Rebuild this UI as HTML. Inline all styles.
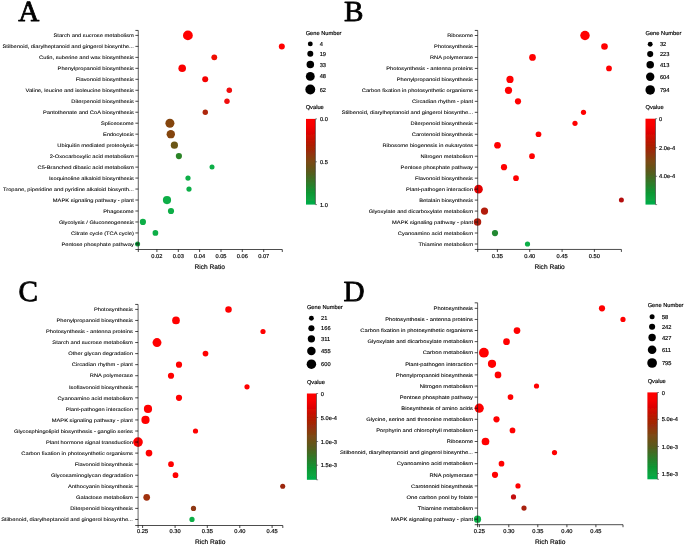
<!DOCTYPE html>
<html lang="en"><head><meta charset="utf-8"><title>KEGG enrichment bubble plots</title>
<style>html,body{margin:0;padding:0;background:#fff;overflow:hidden}svg{display:block}text{font-family:"Liberation Sans", Arial, sans-serif;fill:#000;stroke:#000;stroke-width:.16px;text-rendering:geometricPrecision}.s{font-size:5.710px}.t{font-size:6.600px}.L{font-family:"Liberation Serif", "Times New Roman", serif;font-weight:normal;font-size:29.2px}.y{stroke-width:.08px}.L{stroke:#000;stroke-width:.8px;stroke-linejoin:round}.ln{stroke:#000;stroke-width:0.7;fill:none}</style></head><body>
<svg width="685" height="546" viewBox="0 0 685 546">
<defs><linearGradient id="g" x1="0" y1="0" x2="0" y2="1"><stop offset="0" stop-color="#ff0000"/><stop offset="0.08" stop-color="#f80000"/><stop offset="0.17" stop-color="#dc0400"/><stop offset="0.3" stop-color="#b01c04"/><stop offset="0.4" stop-color="#943008"/><stop offset="0.5" stop-color="#7a4a14"/><stop offset="0.62" stop-color="#585a1c"/><stop offset="0.75" stop-color="#2e7a2a"/><stop offset="0.87" stop-color="#0c9834"/><stop offset="1" stop-color="#04ae4a"/></linearGradient></defs>
<rect width="685" height="546" fill="#fff"/>
<filter id="f" x="0" y="0" width="685" height="546" filterUnits="userSpaceOnUse"><feGaussianBlur stdDeviation="0.3"/></filter><g filter="url(#f)">
<g>
<text class="L" x="18.3" y="20.5">A</text>
<circle cx="187.9" cy="35.40" r="4.90" fill="#ff0000"/>
<circle cx="281.8" cy="46.38" r="3.00" fill="#ff0000"/>
<circle cx="214.3" cy="57.35" r="2.90" fill="#f00a05"/>
<circle cx="182.2" cy="68.32" r="3.80" fill="#fa0000"/>
<circle cx="205.2" cy="79.30" r="3.00" fill="#f50505"/>
<circle cx="229.3" cy="90.28" r="2.75" fill="#f00808"/>
<circle cx="227.0" cy="101.25" r="2.70" fill="#f00808"/>
<circle cx="205.3" cy="112.22" r="2.70" fill="#ae2608"/>
<circle cx="169.9" cy="123.20" r="4.50" fill="#84440e"/>
<circle cx="170.8" cy="134.17" r="4.20" fill="#84440e"/>
<circle cx="174.4" cy="145.15" r="3.60" fill="#6a5612"/>
<circle cx="178.9" cy="156.12" r="3.10" fill="#2c8428"/>
<circle cx="212.0" cy="167.10" r="2.50" fill="#0cae46"/>
<circle cx="188.0" cy="178.07" r="2.60" fill="#0cae46"/>
<circle cx="189.0" cy="189.05" r="2.60" fill="#0cae46"/>
<circle cx="167.0" cy="200.03" r="4.10" fill="#0cae46"/>
<circle cx="171.0" cy="211.00" r="3.10" fill="#0cae46"/>
<circle cx="142.9" cy="221.97" r="3.10" fill="#0cae46"/>
<circle cx="155.4" cy="232.95" r="2.85" fill="#0cae46"/>
<circle cx="137.6" cy="243.93" r="2.50" fill="#0a9a3a"/>
<path class="ln" style="stroke-width:0.7;stroke:#222" d="M138.30 30.43V249.50"/>
<path class="ln" style="stroke-width:.7" d="M135.40 249.50H282.30"/>
<path class="ln" style="stroke-width:.72" d="M135.40 30.43H138.30M282.30 249.50V252.00M135.40 35.40H138.30M135.40 46.38H138.30M135.40 57.35H138.30M135.40 68.32H138.30M135.40 79.30H138.30M135.40 90.28H138.30M135.40 101.25H138.30M135.40 112.22H138.30M135.40 123.20H138.30M135.40 134.17H138.30M135.40 145.15H138.30M135.40 156.12H138.30M135.40 167.10H138.30M135.40 178.07H138.30M135.40 189.05H138.30M135.40 200.03H138.30M135.40 211.00H138.30M135.40 221.97H138.30M135.40 232.95H138.30M135.40 243.93H138.30M138.30 249.50V252.00M156.90 249.50V252.00M178.30 249.50V252.00M199.60 249.50V252.00M221.00 249.50V252.00M242.30 249.50V252.00M263.70 249.50V252.00"/>
<text class="s y" text-anchor="end" transform="translate(133.80 37.14) scale(1.18 1)" style="font-size:4.869px">Starch and sucrose metabolism</text>
<text class="s y" text-anchor="end" transform="translate(133.80 48.12) scale(1.18 1)" style="font-size:4.869px">Stilbenoid, diarylheptanoid and gingerol biosynthe...</text>
<text class="s y" text-anchor="end" transform="translate(133.80 59.09) scale(1.18 1)" style="font-size:4.869px">Cutin, suberine and wax biosynthesis</text>
<text class="s y" text-anchor="end" transform="translate(133.80 70.07) scale(1.18 1)" style="font-size:4.869px">Phenylpropanoid biosynthesis</text>
<text class="s y" text-anchor="end" transform="translate(133.80 81.04) scale(1.18 1)" style="font-size:4.869px">Flavonoid biosynthesis</text>
<text class="s y" text-anchor="end" transform="translate(133.80 92.02) scale(1.18 1)" style="font-size:4.869px">Valine, leucine and isoleucine biosynthesis</text>
<text class="s y" text-anchor="end" transform="translate(133.80 102.99) scale(1.18 1)" style="font-size:4.869px">Diterpenoid biosynthesis</text>
<text class="s y" text-anchor="end" transform="translate(133.80 113.97) scale(1.18 1)" style="font-size:4.869px">Pantothenate and CoA biosynthesis</text>
<text class="s y" text-anchor="end" transform="translate(133.80 124.94) scale(1.18 1)" style="font-size:4.869px">Spliceosome</text>
<text class="s y" text-anchor="end" transform="translate(133.80 135.92) scale(1.18 1)" style="font-size:4.869px">Endocytosis</text>
<text class="s y" text-anchor="end" transform="translate(133.80 146.89) scale(1.18 1)" style="font-size:4.869px">Ubiquitin mediated proteolysis</text>
<text class="s y" text-anchor="end" transform="translate(133.80 157.87) scale(1.18 1)" style="font-size:4.869px">2-Oxocarboxylic acid metabolism</text>
<text class="s y" text-anchor="end" transform="translate(133.80 168.84) scale(1.18 1)" style="font-size:4.869px">C5-Branched dibasic acid metabolism</text>
<text class="s y" text-anchor="end" transform="translate(133.80 179.82) scale(1.18 1)" style="font-size:4.869px">Isoquinoline alkaloid biosynthesis</text>
<text class="s y" text-anchor="end" transform="translate(133.80 190.79) scale(1.18 1)" style="font-size:4.869px">Tropane, piperidine and pyridine alkaloid biosynth...</text>
<text class="s y" text-anchor="end" transform="translate(133.80 201.77) scale(1.18 1)" style="font-size:4.869px">MAPK signaling pathway - plant</text>
<text class="s y" text-anchor="end" transform="translate(133.80 212.74) scale(1.18 1)" style="font-size:4.869px">Phagosome</text>
<text class="s y" text-anchor="end" transform="translate(133.80 223.72) scale(1.18 1)" style="font-size:4.869px">Glycolysis / Gluconeogenesis</text>
<text class="s y" text-anchor="end" transform="translate(133.80 234.69) scale(1.18 1)" style="font-size:4.869px">Citrate cycle (TCA cycle)</text>
<text class="s y" text-anchor="end" transform="translate(133.80 245.67) scale(1.18 1)" style="font-size:4.869px">Pentose phosphate pathway</text>
<text class="s" text-anchor="middle" x="156.90" y="257.74">0.02</text>
<text class="s" text-anchor="middle" x="178.30" y="257.74">0.03</text>
<text class="s" text-anchor="middle" x="199.60" y="257.74">0.04</text>
<text class="s" text-anchor="middle" x="221.00" y="257.74">0.05</text>
<text class="s" text-anchor="middle" x="242.30" y="257.74">0.06</text>
<text class="s" text-anchor="middle" x="263.70" y="257.74">0.07</text>
<text class="t" text-anchor="middle" x="209.70" y="268.86">Rich Ratio</text>
<text class="s" x="305.70" y="34.84">Gene Number</text>
<circle cx="310.3" cy="43.9" r="2.45" fill="#000"/>
<text class="s" x="319.70" y="45.94">4</text>
<circle cx="310.3" cy="53.7" r="3.00" fill="#000"/>
<text class="s" x="319.70" y="55.74">19</text>
<circle cx="310.3" cy="64.5" r="3.75" fill="#000"/>
<text class="s" x="319.70" y="66.54">33</text>
<circle cx="310.3" cy="76.4" r="4.45" fill="#000"/>
<text class="s" x="319.70" y="78.44">48</text>
<circle cx="310.3" cy="89.5" r="4.95" fill="#000"/>
<text class="s" x="319.70" y="91.54">62</text>
<text class="s" x="305.70" y="108.74">Qvalue</text>
<rect x="306.0" y="118.9" width="9.4" height="85.7" fill="url(#g)"/>
<text class="s" x="319.90" y="120.94">0.0</text>
<text class="s" x="319.90" y="163.84">0.5</text>
<text class="s" x="319.90" y="206.64">1.0</text>
<path class="ln" style="stroke-width:.55;stroke:#222" d="M315.40 118.90V204.60M315.40 118.90H317.00M315.40 161.80H317.00M315.40 204.60H317.00"/>
</g>
<g>
<text class="L" x="343.9" y="20.5">B</text>
<circle cx="585.0" cy="35.50" r="4.75" fill="#ff0000"/>
<circle cx="604.5" cy="46.47" r="3.30" fill="#ff0000"/>
<circle cx="532.5" cy="57.45" r="3.35" fill="#ff0000"/>
<circle cx="609.0" cy="68.42" r="2.85" fill="#ff0000"/>
<circle cx="510.0" cy="79.40" r="3.60" fill="#ff0000"/>
<circle cx="508.5" cy="90.37" r="3.60" fill="#ff0000"/>
<circle cx="518.0" cy="101.34" r="3.10" fill="#ff0000"/>
<circle cx="583.5" cy="112.32" r="2.60" fill="#ff0000"/>
<circle cx="575.0" cy="123.29" r="2.60" fill="#ff0000"/>
<circle cx="538.5" cy="134.27" r="2.85" fill="#ff0000"/>
<circle cx="497.5" cy="145.24" r="3.35" fill="#ff0000"/>
<circle cx="532.0" cy="156.21" r="2.85" fill="#ff0000"/>
<circle cx="504.0" cy="167.19" r="3.10" fill="#ff0000"/>
<circle cx="516.0" cy="178.16" r="2.85" fill="#ff0000"/>
<circle cx="478.5" cy="189.14" r="4.30" fill="#e40202"/>
<circle cx="621.4" cy="200.11" r="2.50" fill="#b41010"/>
<circle cx="484.5" cy="211.08" r="3.60" fill="#b21e08"/>
<circle cx="477.5" cy="222.06" r="3.75" fill="#b01e0c"/>
<circle cx="495.0" cy="233.03" r="3.10" fill="#208830"/>
<circle cx="527.5" cy="244.01" r="2.60" fill="#0cae46"/>
<path class="ln" style="stroke-width:0.7;stroke:#222" d="M477.70 30.43V249.45"/>
<path class="ln" style="stroke-width:.7" d="M474.80 249.45H621.40"/>
<path class="ln" style="stroke-width:.72" d="M474.80 30.43H477.70M621.40 249.45V251.95M474.80 35.50H477.70M474.80 46.47H477.70M474.80 57.45H477.70M474.80 68.42H477.70M474.80 79.40H477.70M474.80 90.37H477.70M474.80 101.34H477.70M474.80 112.32H477.70M474.80 123.29H477.70M474.80 134.27H477.70M474.80 145.24H477.70M474.80 156.21H477.70M474.80 167.19H477.70M474.80 178.16H477.70M474.80 189.14H477.70M474.80 200.11H477.70M474.80 211.08H477.70M474.80 222.06H477.70M474.80 233.03H477.70M474.80 244.01H477.70M477.70 249.45V251.95M497.40 249.45V251.95M529.70 249.45V251.95M562.10 249.45V251.95M594.40 249.45V251.95"/>
<text class="s y" text-anchor="end" transform="translate(473.00 37.24) scale(1.18 1)" style="font-size:4.864px">Ribosome</text>
<text class="s y" text-anchor="end" transform="translate(473.00 48.22) scale(1.18 1)" style="font-size:4.864px">Photosynthesis</text>
<text class="s y" text-anchor="end" transform="translate(473.00 59.19) scale(1.18 1)" style="font-size:4.864px">RNA polymerase</text>
<text class="s y" text-anchor="end" transform="translate(473.00 70.16) scale(1.18 1)" style="font-size:4.864px">Photosynthesis - antenna proteins</text>
<text class="s y" text-anchor="end" transform="translate(473.00 81.14) scale(1.18 1)" style="font-size:4.864px">Phenylpropanoid biosynthesis</text>
<text class="s y" text-anchor="end" transform="translate(473.00 92.11) scale(1.18 1)" style="font-size:4.864px">Carbon fixation in photosynthetic organisms</text>
<text class="s y" text-anchor="end" transform="translate(473.00 103.09) scale(1.18 1)" style="font-size:4.864px">Circadian rhythm - plant</text>
<text class="s y" text-anchor="end" transform="translate(473.00 114.06) scale(1.18 1)" style="font-size:4.864px">Stilbenoid, diarylheptanoid and gingerol biosynthe...</text>
<text class="s y" text-anchor="end" transform="translate(473.00 125.03) scale(1.18 1)" style="font-size:4.864px">Diterpenoid biosynthesis</text>
<text class="s y" text-anchor="end" transform="translate(473.00 136.01) scale(1.18 1)" style="font-size:4.864px">Carotenoid biosynthesis</text>
<text class="s y" text-anchor="end" transform="translate(473.00 146.98) scale(1.18 1)" style="font-size:4.864px">Ribosome biogenesis in eukaryotes</text>
<text class="s y" text-anchor="end" transform="translate(473.00 157.96) scale(1.18 1)" style="font-size:4.864px">Nitrogen metabolism</text>
<text class="s y" text-anchor="end" transform="translate(473.00 168.93) scale(1.18 1)" style="font-size:4.864px">Pentose phosphate pathway</text>
<text class="s y" text-anchor="end" transform="translate(473.00 179.90) scale(1.18 1)" style="font-size:4.864px">Flavonoid biosynthesis</text>
<text class="s y" text-anchor="end" transform="translate(473.00 190.88) scale(1.18 1)" style="font-size:4.864px">Plant-pathogen interaction</text>
<text class="s y" text-anchor="end" transform="translate(473.00 201.85) scale(1.18 1)" style="font-size:4.864px">Betalain biosynthesis</text>
<text class="s y" text-anchor="end" transform="translate(473.00 212.83) scale(1.18 1)" style="font-size:4.864px">Glyoxylate and dicarboxylate metabolism</text>
<text class="s y" text-anchor="end" transform="translate(473.00 223.80) scale(1.18 1)" style="font-size:4.864px">MAPK signaling pathway - plant</text>
<text class="s y" text-anchor="end" transform="translate(473.00 234.77) scale(1.18 1)" style="font-size:4.864px">Cyanoamino acid metabolism</text>
<text class="s y" text-anchor="end" transform="translate(473.00 245.75) scale(1.18 1)" style="font-size:4.864px">Thiamine metabolism</text>
<text class="s" text-anchor="middle" x="497.40" y="257.84">0.35</text>
<text class="s" text-anchor="middle" x="529.70" y="257.84">0.40</text>
<text class="s" text-anchor="middle" x="562.10" y="257.84">0.45</text>
<text class="s" text-anchor="middle" x="594.40" y="257.84">0.50</text>
<text class="t" text-anchor="middle" x="549.60" y="269.06">Rich Ratio</text>
<text class="s" x="645.50" y="34.54">Gene Number</text>
<circle cx="650.2" cy="44.3" r="2.45" fill="#000"/>
<text class="s" x="659.90" y="46.34">32</text>
<circle cx="650.2" cy="54.1" r="3.05" fill="#000"/>
<text class="s" x="659.90" y="56.19">223</text>
<circle cx="650.2" cy="64.7" r="3.75" fill="#000"/>
<text class="s" x="659.90" y="66.69">413</text>
<circle cx="650.2" cy="76.7" r="4.20" fill="#000"/>
<text class="s" x="659.90" y="78.74">604</text>
<circle cx="650.2" cy="89.9" r="4.75" fill="#000"/>
<text class="s" x="659.90" y="91.94">794</text>
<text class="s" x="645.50" y="109.14">Qvalue</text>
<rect x="645.5" y="118.7" width="10.0" height="85.9" fill="url(#g)"/>
<text class="s" x="659.00" y="120.74">0</text>
<text class="s" x="659.00" y="149.74">2.0e-4</text>
<text class="s" x="659.00" y="178.34">4.0e-4</text>
<path class="ln" style="stroke-width:.55;stroke:#222" d="M655.50 118.70V204.60M655.50 118.70H657.10M655.50 147.70H657.10M655.50 176.30H657.10M655.50 204.60H657.10"/>
</g>
<g>
<text class="L" x="18.6" y="301.0">C</text>
<circle cx="228.5" cy="309.40" r="3.25" fill="#ff0000"/>
<circle cx="176.0" cy="320.45" r="3.85" fill="#ff0000"/>
<circle cx="263.0" cy="331.51" r="2.60" fill="#ff0000"/>
<circle cx="157.0" cy="342.56" r="4.45" fill="#ff0000"/>
<circle cx="205.5" cy="353.62" r="2.85" fill="#ff0000"/>
<circle cx="179.0" cy="364.67" r="3.10" fill="#ff0000"/>
<circle cx="171.0" cy="375.73" r="3.10" fill="#ff0000"/>
<circle cx="247.0" cy="386.78" r="2.60" fill="#ff0000"/>
<circle cx="179.0" cy="397.84" r="3.10" fill="#ff0000"/>
<circle cx="148.0" cy="408.89" r="4.10" fill="#ff0000"/>
<circle cx="145.5" cy="419.95" r="4.10" fill="#ff0000"/>
<circle cx="195.5" cy="431.00" r="2.60" fill="#ff0000"/>
<circle cx="138.0" cy="442.06" r="4.85" fill="#ff0000"/>
<circle cx="149.0" cy="453.12" r="3.35" fill="#ff0000"/>
<circle cx="171.0" cy="464.17" r="2.85" fill="#ff0000"/>
<circle cx="175.5" cy="475.22" r="2.85" fill="#ff0000"/>
<circle cx="282.7" cy="486.28" r="2.55" fill="#9c2810"/>
<circle cx="146.7" cy="497.33" r="3.35" fill="#a03010"/>
<circle cx="193.5" cy="508.39" r="2.60" fill="#8e3812"/>
<circle cx="192.0" cy="519.44" r="2.60" fill="#0cae46"/>
<path class="ln" style="stroke-width:0.7;stroke:#222" d="M138.10 304.43V525.50"/>
<path class="ln" style="stroke-width:.7" d="M135.20 525.50H282.80"/>
<path class="ln" style="stroke-width:.72" d="M135.20 304.43H138.10M282.80 525.50V528.00M135.20 309.40H138.10M135.20 320.45H138.10M135.20 331.51H138.10M135.20 342.56H138.10M135.20 353.62H138.10M135.20 364.67H138.10M135.20 375.73H138.10M135.20 386.78H138.10M135.20 397.84H138.10M135.20 408.89H138.10M135.20 419.95H138.10M135.20 431.00H138.10M135.20 442.06H138.10M135.20 453.12H138.10M135.20 464.17H138.10M135.20 475.22H138.10M135.20 486.28H138.10M135.20 497.33H138.10M135.20 508.39H138.10M135.20 519.44H138.10M138.10 525.50V528.00M142.60 525.50V528.00M175.10 525.50V528.00M207.30 525.50V528.00M239.80 525.50V528.00M272.10 525.50V528.00"/>
<text class="s y" text-anchor="end" transform="translate(132.90 311.15) scale(1.18 1)" style="font-size:4.886px">Photosynthesis</text>
<text class="s y" text-anchor="end" transform="translate(132.90 322.20) scale(1.18 1)" style="font-size:4.886px">Phenylpropanoid biosynthesis</text>
<text class="s y" text-anchor="end" transform="translate(132.90 333.26) scale(1.18 1)" style="font-size:4.886px">Photosynthesis - antenna proteins</text>
<text class="s y" text-anchor="end" transform="translate(132.90 344.31) scale(1.18 1)" style="font-size:4.886px">Starch and sucrose metabolism</text>
<text class="s y" text-anchor="end" transform="translate(132.90 355.37) scale(1.18 1)" style="font-size:4.886px">Other glycan degradation</text>
<text class="s y" text-anchor="end" transform="translate(132.90 366.42) scale(1.18 1)" style="font-size:4.886px">Circadian rhythm - plant</text>
<text class="s y" text-anchor="end" transform="translate(132.90 377.48) scale(1.18 1)" style="font-size:4.886px">RNA polymerase</text>
<text class="s y" text-anchor="end" transform="translate(132.90 388.53) scale(1.18 1)" style="font-size:4.886px">Isoflavonoid biosynthesis</text>
<text class="s y" text-anchor="end" transform="translate(132.90 399.59) scale(1.18 1)" style="font-size:4.886px">Cyanoamino acid metabolism</text>
<text class="s y" text-anchor="end" transform="translate(132.90 410.64) scale(1.18 1)" style="font-size:4.886px">Plant-pathogen interaction</text>
<text class="s y" text-anchor="end" transform="translate(132.90 421.70) scale(1.18 1)" style="font-size:4.886px">MAPK signaling pathway - plant</text>
<text class="s y" text-anchor="end" transform="translate(132.90 432.75) scale(1.18 1)" style="font-size:4.886px">Glycosphingolipid biosynthesis - ganglio series</text>
<text class="s y" text-anchor="end" transform="translate(132.90 443.81) scale(1.18 1)" style="font-size:4.886px">Plant hormone signal transduction</text>
<text class="s y" text-anchor="end" transform="translate(132.90 454.86) scale(1.18 1)" style="font-size:4.886px">Carbon fixation in photosynthetic organisms</text>
<text class="s y" text-anchor="end" transform="translate(132.90 465.92) scale(1.18 1)" style="font-size:4.886px">Flavonoid biosynthesis</text>
<text class="s y" text-anchor="end" transform="translate(132.90 476.97) scale(1.18 1)" style="font-size:4.886px">Glycosaminoglycan degradation</text>
<text class="s y" text-anchor="end" transform="translate(132.90 488.03) scale(1.18 1)" style="font-size:4.886px">Anthocyanin biosynthesis</text>
<text class="s y" text-anchor="end" transform="translate(132.90 499.08) scale(1.18 1)" style="font-size:4.886px">Galactose metabolism</text>
<text class="s y" text-anchor="end" transform="translate(132.90 510.14) scale(1.18 1)" style="font-size:4.886px">Diterpenoid biosynthesis</text>
<text class="s y" text-anchor="end" transform="translate(132.90 521.19) scale(1.18 1)" style="font-size:4.886px">Stilbenoid, diarylheptanoid and gingerol biosynthe...</text>
<text class="s" text-anchor="middle" x="142.60" y="533.44">0.25</text>
<text class="s" text-anchor="middle" x="175.10" y="533.44">0.30</text>
<text class="s" text-anchor="middle" x="207.30" y="533.44">0.35</text>
<text class="s" text-anchor="middle" x="239.80" y="533.44">0.40</text>
<text class="s" text-anchor="middle" x="272.10" y="533.44">0.45</text>
<text class="t" text-anchor="middle" x="210.20" y="544.16">Rich Ratio</text>
<text class="s" x="306.90" y="309.04">Gene Number</text>
<circle cx="311.4" cy="318.2" r="2.45" fill="#000"/>
<text class="s" x="321.10" y="320.24">21</text>
<circle cx="311.4" cy="328.2" r="3.05" fill="#000"/>
<text class="s" x="321.10" y="330.24">166</text>
<circle cx="311.4" cy="338.8" r="3.65" fill="#000"/>
<text class="s" x="321.10" y="340.84">311</text>
<circle cx="311.4" cy="350.9" r="4.25" fill="#000"/>
<text class="s" x="321.10" y="352.94">455</text>
<circle cx="311.4" cy="364.2" r="4.75" fill="#000"/>
<text class="s" x="321.10" y="366.24">600</text>
<text class="s" x="306.90" y="383.94">Qvalue</text>
<rect x="306.9" y="393.5" width="9.6" height="86.3" fill="url(#g)"/>
<text class="s" x="320.80" y="395.54">0</text>
<text class="s" x="320.80" y="419.54">5.0e-4</text>
<text class="s" x="320.80" y="443.54">1.0e-3</text>
<text class="s" x="320.80" y="467.24">1.5e-3</text>
<path class="ln" style="stroke-width:.55;stroke:#222" d="M316.50 393.50V479.80M316.50 393.50H318.10M316.50 417.50H318.10M316.50 441.50H318.10M316.50 465.20H318.10M316.50 479.80H318.10"/>
</g>
<g>
<text class="L" x="343.6" y="300.6">D</text>
<circle cx="602.0" cy="308.34" r="3.10" fill="#ff0000"/>
<circle cx="623.0" cy="319.44" r="2.60" fill="#ff0000"/>
<circle cx="517.0" cy="330.53" r="3.35" fill="#ff0000"/>
<circle cx="506.5" cy="341.63" r="3.35" fill="#ff0000"/>
<circle cx="483.9" cy="352.72" r="4.90" fill="#ff0000"/>
<circle cx="492.0" cy="363.82" r="4.10" fill="#ff0000"/>
<circle cx="498.0" cy="374.92" r="3.35" fill="#ff0000"/>
<circle cx="536.5" cy="386.01" r="2.60" fill="#ff0000"/>
<circle cx="510.5" cy="397.11" r="2.85" fill="#ff0000"/>
<circle cx="479.2" cy="408.20" r="4.60" fill="#ff0000"/>
<circle cx="496.5" cy="419.30" r="3.10" fill="#ff0000"/>
<circle cx="512.5" cy="430.40" r="2.85" fill="#ff0000"/>
<circle cx="485.5" cy="441.49" r="3.85" fill="#ff0000"/>
<circle cx="554.5" cy="452.59" r="2.60" fill="#ff0000"/>
<circle cx="501.5" cy="463.68" r="2.85" fill="#ff0000"/>
<circle cx="495.0" cy="474.78" r="3.10" fill="#ff0000"/>
<circle cx="518.0" cy="485.88" r="2.60" fill="#ff0000"/>
<circle cx="513.5" cy="496.97" r="2.60" fill="#c41010"/>
<circle cx="524.0" cy="508.07" r="2.60" fill="#a82010"/>
<circle cx="477.5" cy="519.16" r="3.60" fill="#0cae46"/>
<path class="ln" style="stroke-width:0.7;stroke:#222" d="M477.60 302.83V524.70"/>
<path class="ln" style="stroke-width:.7" d="M474.70 524.70H623.00"/>
<path class="ln" style="stroke-width:.72" d="M474.70 302.83H477.60M623.00 524.70V527.20M474.70 308.34H477.60M474.70 319.44H477.60M474.70 330.53H477.60M474.70 341.63H477.60M474.70 352.72H477.60M474.70 363.82H477.60M474.70 374.92H477.60M474.70 386.01H477.60M474.70 397.11H477.60M474.70 408.20H477.60M474.70 419.30H477.60M474.70 430.40H477.60M474.70 441.49H477.60M474.70 452.59H477.60M474.70 463.68H477.60M474.70 474.78H477.60M474.70 485.88H477.60M474.70 496.97H477.60M474.70 508.07H477.60M474.70 519.16H477.60M477.60 524.70V527.20M479.40 524.70V527.20M508.80 524.70V527.20M537.80 524.70V527.20M566.90 524.70V527.20M595.90 524.70V527.20"/>
<text class="s y" text-anchor="end" transform="translate(473.00 310.11) scale(1.18 1)" style="font-size:4.932px">Photosynthesis</text>
<text class="s y" text-anchor="end" transform="translate(473.00 321.20) scale(1.18 1)" style="font-size:4.932px">Photosynthesis - antenna proteins</text>
<text class="s y" text-anchor="end" transform="translate(473.00 332.30) scale(1.18 1)" style="font-size:4.932px">Carbon fixation in photosynthetic organisms</text>
<text class="s y" text-anchor="end" transform="translate(473.00 343.39) scale(1.18 1)" style="font-size:4.932px">Glyoxylate and dicarboxylate metabolism</text>
<text class="s y" text-anchor="end" transform="translate(473.00 354.49) scale(1.18 1)" style="font-size:4.932px">Carbon metabolism</text>
<text class="s y" text-anchor="end" transform="translate(473.00 365.59) scale(1.18 1)" style="font-size:4.932px">Plant-pathogen interaction</text>
<text class="s y" text-anchor="end" transform="translate(473.00 376.68) scale(1.18 1)" style="font-size:4.932px">Phenylpropanoid biosynthesis</text>
<text class="s y" text-anchor="end" transform="translate(473.00 387.78) scale(1.18 1)" style="font-size:4.932px">Nitrogen metabolism</text>
<text class="s y" text-anchor="end" transform="translate(473.00 398.87) scale(1.18 1)" style="font-size:4.932px">Pentose phosphate pathway</text>
<text class="s y" text-anchor="end" transform="translate(473.00 409.97) scale(1.18 1)" style="font-size:4.932px">Biosynthesis of amino acids</text>
<text class="s y" text-anchor="end" transform="translate(473.00 421.07) scale(1.18 1)" style="font-size:4.932px">Glycine, serine and threonine metabolism</text>
<text class="s y" text-anchor="end" transform="translate(473.00 432.16) scale(1.18 1)" style="font-size:4.932px">Porphyrin and chlorophyll metabolism</text>
<text class="s y" text-anchor="end" transform="translate(473.00 443.26) scale(1.18 1)" style="font-size:4.932px">Ribosome</text>
<text class="s y" text-anchor="end" transform="translate(473.00 454.35) scale(1.18 1)" style="font-size:4.932px">Stilbenoid, diarylheptanoid and gingerol biosynthe...</text>
<text class="s y" text-anchor="end" transform="translate(473.00 465.45) scale(1.18 1)" style="font-size:4.932px">Cyanoamino acid metabolism</text>
<text class="s y" text-anchor="end" transform="translate(473.00 476.55) scale(1.18 1)" style="font-size:4.932px">RNA polymerase</text>
<text class="s y" text-anchor="end" transform="translate(473.00 487.64) scale(1.18 1)" style="font-size:4.932px">Carotenoid biosynthesis</text>
<text class="s y" text-anchor="end" transform="translate(473.00 498.74) scale(1.18 1)" style="font-size:4.932px">One carbon pool by folate</text>
<text class="s y" text-anchor="end" transform="translate(473.00 509.83) scale(1.18 1)" style="font-size:4.932px">Thiamine metabolism</text>
<text class="s y" text-anchor="end" transform="translate(473.00 520.93) scale(1.18 1)" style="font-size:4.932px">MAPK signaling pathway - plant</text>
<text class="s" text-anchor="middle" x="479.40" y="533.24">0.25</text>
<text class="s" text-anchor="middle" x="508.80" y="533.24">0.30</text>
<text class="s" text-anchor="middle" x="537.80" y="533.24">0.35</text>
<text class="s" text-anchor="middle" x="566.90" y="533.24">0.40</text>
<text class="s" text-anchor="middle" x="595.90" y="533.24">0.45</text>
<text class="t" text-anchor="middle" x="550.20" y="544.26">Rich Ratio</text>
<text class="s" x="647.70" y="307.04">Gene Number</text>
<circle cx="652.1" cy="316.7" r="2.50" fill="#000"/>
<text class="s" x="661.90" y="318.74">58</text>
<circle cx="652.1" cy="326.7" r="3.05" fill="#000"/>
<text class="s" x="661.90" y="328.74">242</text>
<circle cx="652.1" cy="337.5" r="3.70" fill="#000"/>
<text class="s" x="661.90" y="339.54">427</text>
<circle cx="652.1" cy="349.7" r="4.30" fill="#000"/>
<text class="s" x="661.90" y="351.74">611</text>
<circle cx="652.1" cy="363.0" r="4.85" fill="#000"/>
<text class="s" x="661.90" y="365.04">795</text>
<text class="s" x="647.70" y="382.94">Qvalue</text>
<rect x="647.4" y="392.4" width="10.0" height="86.9" fill="url(#g)"/>
<text class="s" x="661.80" y="394.54">0</text>
<text class="s" x="661.80" y="421.44">5.0e-4</text>
<text class="s" x="661.80" y="448.54">1.0e-3</text>
<text class="s" x="661.80" y="475.54">1.5e-3</text>
<path class="ln" style="stroke-width:.55;stroke:#222" d="M657.40 392.40V479.30M657.40 392.50H659.00M657.40 419.40H659.00M657.40 446.50H659.00M657.40 473.50H659.00M657.40 479.30H659.00"/>
</g>
</g></svg></body></html>
